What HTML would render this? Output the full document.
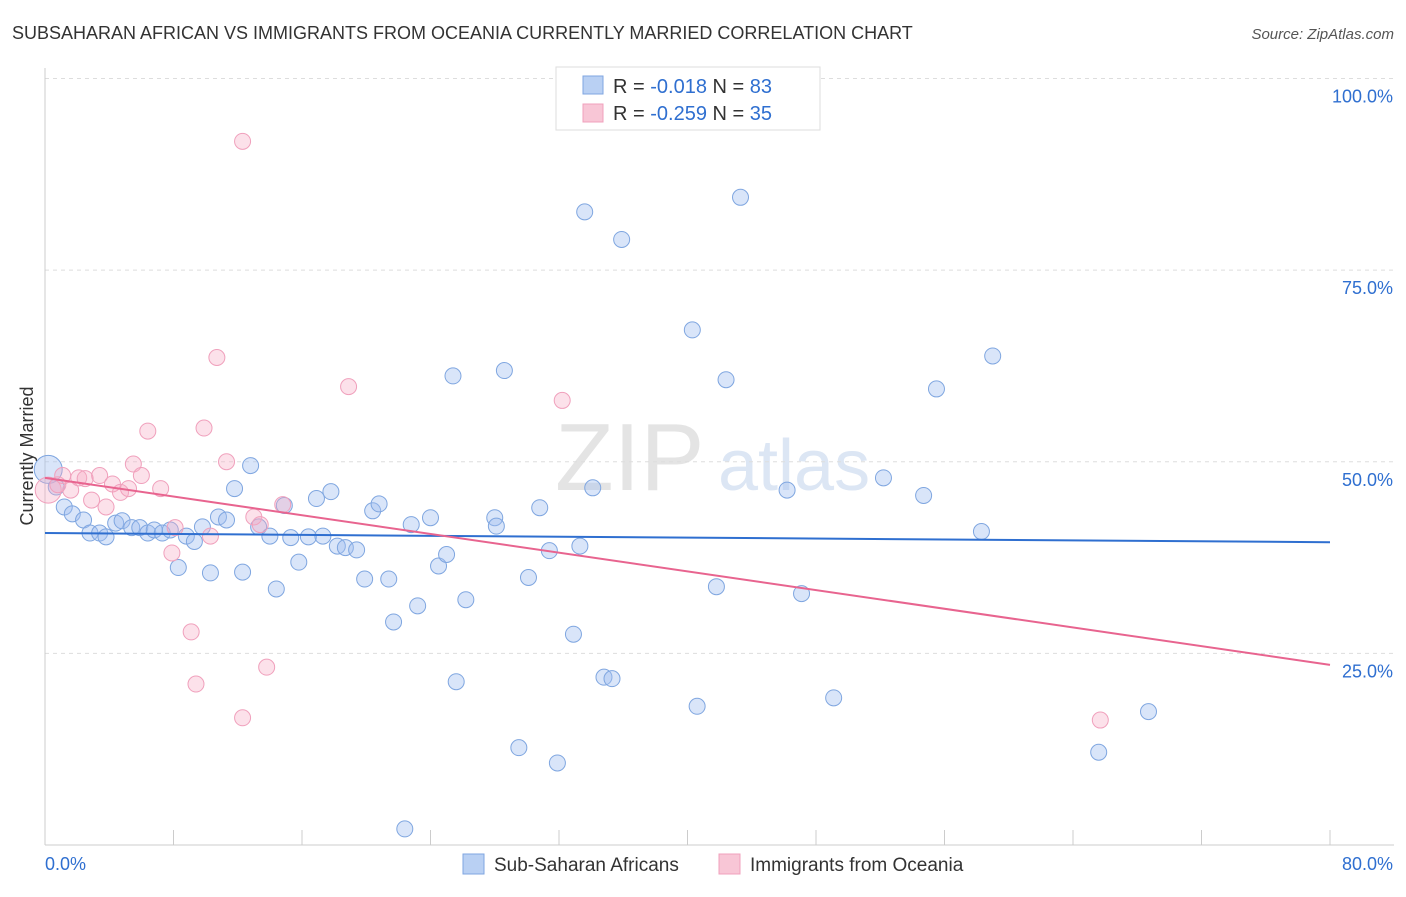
<!DOCTYPE html>
<html><head><meta charset="utf-8">
<style>
body{margin:0;background:#fff;font-family:"Liberation Sans",sans-serif;}
svg text{font-family:"Liberation Sans",sans-serif;}
</style></head>
<body>
<svg id="chart" width="1406" height="892" xmlns="http://www.w3.org/2000/svg">
<text x="12" y="39" font-size="18" fill="#333">SUBSAHARAN AFRICAN VS IMMIGRANTS FROM OCEANIA CURRENTLY MARRIED CORRELATION CHART</text>
<text x="1394" y="39" font-size="15" fill="#555" font-style="italic" text-anchor="end">Source: ZipAtlas.com</text>
<text x="555" y="490" font-size="96" fill="#e4e4e4" font-family="Liberation Serif">ZIP</text>
<text x="718" y="490" font-size="72" fill="#dce6f4">atlas</text>
<g id="grid"></g>
<g id="axes"></g>
<g id="pts"></g>
<g id="lines"></g>
<text transform="translate(33,456) rotate(-90)" font-size="18" fill="#333" text-anchor="middle">Currently Married</text>
<g>
<rect x="556" y="67" width="264" height="63" fill="#fff" stroke="#ddd"/>
<rect x="583" y="76" width="20" height="18" fill="#b9d0f3" stroke="#7fa6e0"/>
<rect x="583" y="104" width="20" height="18" fill="#f8c6d6" stroke="#f0a0bc"/>
<text x="613" y="93" font-size="20" fill="#333">R = <tspan fill="#2f6fd0">-0.018</tspan>   N = <tspan fill="#2f6fd0">83</tspan></text>
<text x="613" y="120" font-size="20" fill="#333">R = <tspan fill="#2f6fd0">-0.259</tspan>   N = <tspan fill="#2f6fd0">35</tspan></text>
</g>
<g>
<rect x="463" y="854" width="21" height="20" fill="#b9d0f3" stroke="#7fa6e0"/>
<text x="494" y="871" font-size="19" fill="#333">Sub-Saharan Africans</text>
<rect x="719" y="854" width="21" height="20" fill="#f8c6d6" stroke="#f0a0bc"/>
<text x="750" y="871" font-size="19" fill="#333">Immigrants from Oceania</text>
</g>
</svg>
<script>
const blueX=[0.2,0.7,1.2,1.7,2.4,2.8,3.4,3.8,4.4,4.8,5.4,5.9,6.4,6.8,7.3,7.8,8.3,8.8,9.3,9.8,10.3,10.8,11.3,11.8,12.3,12.8,13.3,14.0,14.4,14.9,15.3,15.8,16.4,16.9,17.3,17.8,18.2,18.7,19.4,19.9,20.4,20.8,21.4,21.7,22.4,22.8,23.2,24.0,24.5,25.0,25.4,25.6,26.2,28.0,28.1,28.6,29.5,30.1,30.8,31.4,31.9,32.9,33.3,33.6,34.1,34.8,35.3,35.9,40.3,40.6,41.8,42.4,43.3,46.2,47.1,49.1,52.2,54.7,55.5,58.3,59.0,65.6,68.7];
const blueY=[49.0,46.7,44.1,43.2,42.4,40.7,40.7,40.2,42.0,42.3,41.4,41.4,40.7,41.1,40.7,41.1,36.2,40.3,39.6,41.5,35.5,42.8,42.4,46.5,35.6,49.5,41.5,40.3,33.4,44.3,40.1,36.9,40.2,45.2,40.3,46.1,39.0,38.8,38.5,34.7,43.6,44.5,34.7,29.1,2.1,41.8,31.2,42.7,36.4,37.9,61.2,21.3,32.0,42.7,41.6,61.9,12.7,34.9,44.0,38.4,10.7,27.5,39.0,82.6,46.6,21.9,21.7,79.0,67.2,18.1,33.7,60.7,84.5,46.3,32.8,19.2,47.9,45.6,59.5,40.9,63.8,12.1,17.4];
const pinkX=[0.2,0.8,1.1,1.6,2.1,2.5,2.9,3.4,3.8,4.2,4.7,5.2,5.5,6.0,6.4,7.2,7.9,8.1,9.1,9.4,9.9,10.3,10.7,11.3,12.3,12.3,13.0,13.4,13.8,14.8,18.9,32.2,65.7];
const pinkY=[46.3,47.0,48.2,46.3,47.9,47.8,45.0,48.2,44.1,47.1,46.0,46.5,49.7,48.2,54.0,46.5,38.1,41.4,27.8,21.0,54.4,40.3,63.6,50.0,91.8,16.6,42.8,41.8,23.2,44.4,59.8,58.0,16.3];
const blueTrend=[40.7,39.5];
const pinkTrend=[47.9,23.5];
const yTicks=[25,50,75,100];
const yTickLabels=["25.0%","50.0%","75.0%","100.0%"];
const xTicks=[0,8,16,24,32,40,48,56,64,72,80];

const NS="http://www.w3.org/2000/svg";
const X0=45,X1=1330,Y0=845,Y100=78.5;
const sx=v=>X0+(v/80)*(X1-X0);
const sy=v=>Y0-(v/100)*(Y0-Y100);
function mk(tag,attrs,parent){const e=document.createElementNS(NS,tag);for(const k in attrs)e.setAttribute(k,attrs[k]);document.getElementById(parent).appendChild(e);return e;}
yTicks.forEach((t,i)=>{
  const g=mk('line',{x1:X0,x2:1394,y1:sy(t),y2:sy(t),stroke:'#ddd','stroke-dasharray':'4,4'},'grid');
  
  
  const tx=mk('text',{x:1393,y:sy(t)+24,'font-size':18,fill:'#2f6fd0','text-anchor':'end'},'grid');
  tx.textContent=yTickLabels[i];
  
  
});
let a=mk('line',{x1:X0,x2:X0,y1:68,y2:Y0,stroke:'#ccc'},'axes');


a=mk('line',{x1:X0,x2:1394,y1:Y0,y2:Y0,stroke:'#ccc'},'axes');


xTicks.forEach(t=>{
  const l=mk('line',{x1:sx(t),x2:sx(t),y1:Y0,y2:Y0-15,stroke:'#ccc'},'axes');
  
  
});
let t=mk('text',{x:45,y:870,'font-size':18,fill:'#2f6fd0'},'axes');t.textContent='0.0%';


t=mk('text',{x:1393,y:870,'font-size':18,fill:'#2f6fd0','text-anchor':'end'},'axes');t.textContent='80.0%';


blueX.forEach((v,i)=>{
  const c=mk('circle',{cx:sx(v),cy:sy(blueY[i]),r:i==0?14:8,fill:'rgba(160,190,240,0.4)',stroke:'#7fa6e0','stroke-width':1},'pts');
  
  
});
pinkX.forEach((v,i)=>{
  const c=mk('circle',{cx:sx(v),cy:sy(pinkY[i]),r:i==0?13:8,fill:'rgba(245,170,195,0.35)',stroke:'#f0a0bc','stroke-width':1},'pts');
  
  
});
let L=mk('line',{x1:sx(0),x2:sx(80),y1:sy(blueTrend[0]),y2:sy(blueTrend[1]),stroke:'#2f6fd0','stroke-width':2},'lines');


L=mk('line',{x1:sx(0),x2:sx(80),y1:sy(pinkTrend[0]),y2:sy(pinkTrend[1]),stroke:'#e8648f','stroke-width':2},'lines');


</script>
</body></html>
